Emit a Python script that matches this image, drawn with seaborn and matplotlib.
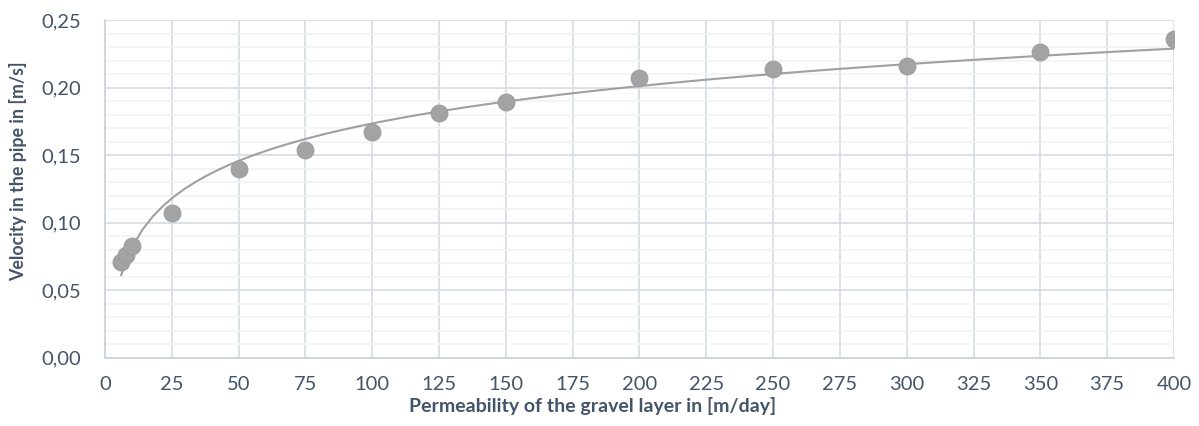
import matplotlib
matplotlib.use("Agg")
import matplotlib.pyplot as plt
import numpy as np
import pandas as pd
import seaborn as sns
from matplotlib.ticker import FuncFormatter, MultipleLocator

permeability = [6, 8, 10, 25, 50, 75, 100, 125, 150, 200, 250, 300, 350, 400]
velocity = [0.071, 0.076, 0.083, 0.107, 0.140, 0.154, 0.167, 0.181, 0.189,
            0.207, 0.214, 0.216, 0.226, 0.236]

x_label = "Permeability of the gravel layer in [m/day]"
y_label = "Velocity in the pipe in [m/s]"

TEXT = "#44546A"
MAJOR_GRID = "#D9DEE7"
MINOR_GRID = "#F0F1F4"

df = pd.DataFrame({"k": permeability, "v": velocity})

sns.set_theme(style="white")
plt.rcParams["font.family"] = ["Lato", "DejaVu Sans"]

fig = plt.figure(figsize=(11.99, 4.26), dpi=100)
ax = fig.add_axes([0.0876, 0.160, 0.8915, 0.793])

# Excel-style logarithmic trendline
sns.regplot(data=df, x="k", y="v", logx=True, ci=None, scatter=False, ax=ax,
            line_kws={"color": "#A0A0A0", "lw": 1.5, "zorder": 3})
sns.scatterplot(data=df, x="k", y="v", ax=ax, color="#A3A3A3", s=150,
                edgecolor="#9A9A9A", linewidth=0.6, zorder=4)

ax.set_xlim(0, 400)
ax.set_ylim(0, 0.25)
ax.xaxis.set_major_locator(MultipleLocator(25))
ax.yaxis.set_major_locator(MultipleLocator(0.05))
ax.yaxis.set_minor_locator(MultipleLocator(0.01))
ax.yaxis.set_major_formatter(FuncFormatter(lambda v, _: f"{v:.2f}".replace(".", ",")))

ax.grid(True, which="major", color=MAJOR_GRID, lw=1.3)
ax.grid(True, which="minor", axis="y", color=MINOR_GRID, lw=1.1)
ax.set_axisbelow(True)

for side in ["top", "right"]:
    ax.spines[side].set_visible(False)
for side in ["left", "bottom"]:
    ax.spines[side].set_color("#CBD3DF")
    ax.spines[side].set_linewidth(1.3)

ax.tick_params(axis="both", which="both", length=0, labelsize=14.5, colors=TEXT)
ax.tick_params(axis="x", pad=13)
ax.tick_params(axis="y", pad=17)
ax.set_xlabel(x_label, fontsize=14, fontweight="bold", color=TEXT, labelpad=0)
ax.set_ylabel(y_label, fontsize=12.8, fontweight="bold", color=TEXT, labelpad=8)
ax.xaxis.set_label_coords(0.456, -0.115)
ax.yaxis.set_label_coords(-0.073, 0.553)

fig.savefig("out.png", dpi=100)
